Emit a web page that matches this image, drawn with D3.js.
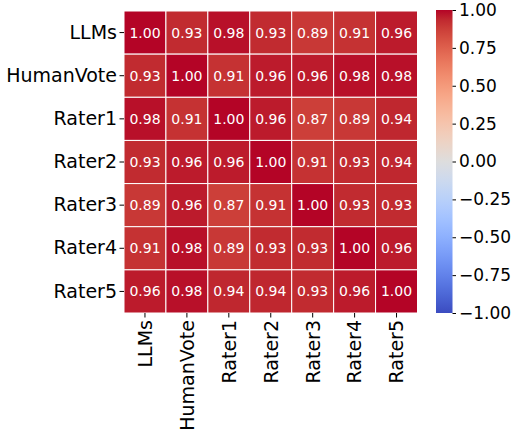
<!DOCTYPE html>
<html>
<head>
<meta charset="utf-8">
<script src="https://cdn.jsdelivr.net/npm/d3@7"></script>
<style>
  body { margin: 0; background: white; }
  svg text { font-family: "DejaVu Sans", sans-serif; }
</style>
</head>
<body>
<svg id="chart" width="511" height="432"></svg>
<script>
//
// Data
//
var labels = ['LLMs', 'HumanVote', 'Rater1', 'Rater2', 'Rater3', 'Rater4', 'Rater5']
var matrix = [
  [1.00, 0.93, 0.98, 0.93, 0.89, 0.91, 0.96],
  [0.93, 1.00, 0.91, 0.96, 0.96, 0.98, 0.98],
  [0.98, 0.91, 1.00, 0.96, 0.87, 0.89, 0.94],
  [0.93, 0.96, 0.96, 1.00, 0.91, 0.93, 0.94],
  [0.89, 0.96, 0.87, 0.91, 1.00, 0.93, 0.93],
  [0.91, 0.98, 0.89, 0.93, 0.93, 1.00, 0.96],
  [0.96, 0.98, 0.94, 0.94, 0.93, 0.96, 1.00]
]
var cbarTicks = [1, 0.75, 0.5, 0.25, 0, -0.25, -0.5, -0.75, -1]

// matplotlib coolwarm samples (33 stops)
var coolwarm = [
  [0.2298, 0.2987, 0.7537], [0.2662, 0.3531, 0.8015], [0.3039, 0.4065, 0.8450],
  [0.3428, 0.4588, 0.8837], [0.3830, 0.5094, 0.9174], [0.4244, 0.5581, 0.9456],
  [0.4667, 0.6046, 0.9682], [0.5096, 0.6483, 0.9848], [0.5530, 0.6889, 0.9954],
  [0.5963, 0.7261, 0.9998], [0.6392, 0.7596, 0.9982], [0.6813, 0.7890, 0.9904],
  [0.7222, 0.8140, 0.9766], [0.7615, 0.8343, 0.9569], [0.7987, 0.8498, 0.9317],
  [0.8335, 0.8602, 0.9011], [0.8654, 0.8654, 0.8654], [0.8978, 0.8489, 0.8209],
  [0.9241, 0.8274, 0.7745], [0.9445, 0.8009, 0.7267], [0.9589, 0.7698, 0.6780],
  [0.9673, 0.7341, 0.6288], [0.9700, 0.6943, 0.5794], [0.9668, 0.6504, 0.5303],
  [0.9580, 0.6028, 0.4818], [0.9445, 0.5518, 0.4342], [0.9256, 0.4972, 0.3880],
  [0.9011, 0.4396, 0.3432], [0.8714, 0.3783, 0.3003], [0.8362, 0.3129, 0.2593],
  [0.7956, 0.2413, 0.2205], [0.7525, 0.1572, 0.1841], [0.7057, 0.0156, 0.1502]
]

//
// Layout
//
var margin = { left: 124, top: 11 }
var heatW = 293.5, heatH = 302
var cbar = { x: 436, y: 10, w: 16.5, h: 303 }
var font = '"DejaVu Sans", sans-serif'

var svg = d3.select('#chart')

function cmapColor(v) {
  var t = (v + 1) / 2 * (coolwarm.length - 1)
  var i = Math.max(0, Math.min(coolwarm.length - 2, Math.floor(t)))
  var f = t - i
  var a = coolwarm[i], b = coolwarm[i + 1]
  return d3.rgb(
    255 * (a[0] + (b[0] - a[0]) * f),
    255 * (a[1] + (b[1] - a[1]) * f),
    255 * (a[2] + (b[2] - a[2]) * f)
  )
}

var x = d3.scaleBand().domain(labels).range([margin.left, margin.left + heatW])
var y = d3.scaleBand().domain(labels).range([margin.top, margin.top + heatH])

var cells = []
matrix.forEach(function (row, i) {
  row.forEach(function (v, j) {
    cells.push({ r: labels[i], c: labels[j], v: v })
  })
})

svg.append('g').selectAll('rect')
  .data(cells)
  .enter().append('rect')
  .attr('x', function (d) { return x(d.c) })
  .attr('y', function (d) { return y(d.r) })
  .attr('width', x.bandwidth())
  .attr('height', y.bandwidth())
  .attr('fill', function (d) { return cmapColor(d.v) })
  .attr('stroke', 'white')
  .attr('stroke-width', 1)

svg.append('g').selectAll('text')
  .data(cells)
  .enter().append('text')
  .attr('x', function (d) { return x(d.c) + x.bandwidth() / 2 })
  .attr('y', function (d) { return y(d.r) + y.bandwidth() / 2 })
  .attr('text-anchor', 'middle')
  .attr('dy', '0.36em')
  .attr('fill', 'white')
  .style('font-family', font)
  .style('font-size', '14px')
  .text(function (d) { return d.v.toFixed(2) })

// axes
var yAxis = svg.append('g')
  .attr('transform', 'translate(' + margin.left + ',0)')
  .call(d3.axisLeft(y).tickSize(4.5).tickPadding(2.5))
yAxis.select('.domain').remove()
yAxis.selectAll('text').style('font-family', font).style('font-size', '19px').attr('fill', 'black')

var xAxis = svg.append('g')
  .attr('transform', 'translate(0,' + (margin.top + heatH) + ')')
  .call(d3.axisBottom(x).tickSize(4.5).tickPadding(3))
xAxis.select('.domain').remove()
xAxis.selectAll('text')
  .style('font-family', font)
  .style('font-size', '19px')
  .attr('fill', 'black')
  .attr('transform', 'rotate(-90)')
  .attr('text-anchor', 'end')
  .attr('x', -7)
  .attr('y', 0)
  .attr('dy', '0.36em')

// colorbar
var defs = svg.append('defs')
var grad = defs.append('linearGradient')
  .attr('id', 'cw').attr('x1', 0).attr('y1', 1).attr('x2', 0).attr('y2', 0)
coolwarm.forEach(function (c, i) {
  grad.append('stop')
    .attr('offset', i / (coolwarm.length - 1))
    .attr('stop-color', d3.rgb(c[0] * 255, c[1] * 255, c[2] * 255))
})
svg.append('rect')
  .attr('x', cbar.x).attr('y', cbar.y)
  .attr('width', cbar.w).attr('height', cbar.h)
  .attr('fill', 'url(#cw)')

var cScale = d3.scaleLinear().domain([-1, 1]).range([cbar.y + cbar.h, cbar.y])
var cAxis = svg.append('g')
  .attr('transform', 'translate(' + (cbar.x + cbar.w) + ',0)')
  .call(d3.axisRight(cScale).tickValues(cbarTicks).tickSize(3.5).tickPadding(3)
    .tickFormat(function (d) { return (d < 0 ? '\u2212' : '') + Math.abs(d).toFixed(2) }))
cAxis.select('.domain').remove()
cAxis.selectAll('text').style('font-family', font).style('font-size', '17px').attr('fill', 'black')
</script>
</body>
</html>
